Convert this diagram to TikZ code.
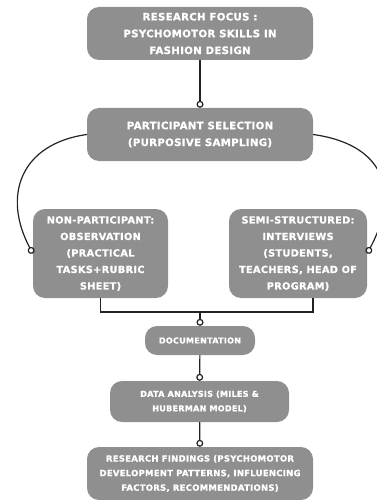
\documentclass[tikz,border=0pt]{standalone}
\usepackage{fontspec}
\usepackage{tikz}
\usetikzlibrary{arrows}
\newfontfamily\boxfont[LetterSpace=3,FakeBold=1]{DejaVu Sans}
\definecolor{boxgray}{HTML}{8F8F8F}
\definecolor{linegray}{HTML}{222222}
\tikzset{
  stagebox/.style = {rectangle, rounded corners=12pt, fill=boxgray, draw=none,
    align=center, inner sep=0pt, text=white, font=\boxfont\bfseries\fontsize{10.2}{16.8}\selectfont},% main stages
  sidebox/.style = {stagebox, font=\boxfont\bfseries\fontsize{9.8}{16.5}\selectfont},% two data sources
  smallbox/.style = {stagebox, font=\boxfont\bfseries\fontsize{8.1}{14.5}\selectfont},% lower steps
  findbox/.style = {stagebox, font=\boxfont\bfseries\fontsize{8.5}{14.6}\selectfont},% last step
  link/.style = {draw=linegray, line width=1.2pt}
}

\begin{document}
\begin{tikzpicture}[x=1pt,y=-1pt,>=stealth']
    \useasboundingbox (0,0) rectangle (376,500);
    \node [stagebox, minimum width=226pt, minimum height=53pt] (focus) at (200,33.5)
        {RESEARCH FOCUS :\\PSYCHOMOTOR SKILLS IN\\FASHION DESIGN};
    \node [stagebox, minimum width=226pt, minimum height=53pt] (selection) at (200,134.5)
        {PARTICIPANT SELECTION\\(PURPOSIVE SAMPLING)};
    \node [sidebox, minimum width=135pt, minimum height=89pt] (observ) at (100.5,253.5)
        {NON-PARTICIPANT:\\OBSERVATION\\(PRACTICAL\\TASKS+RUBRIC\\SHEET)};
    \node [sidebox, minimum width=138pt, minimum height=89pt] (interv) at (298,253.5)
        {SEMI-STRUCTURED:\\INTERVIEWS\\(STUDENTS,\\TEACHERS, HEAD OF\\PROGRAM)};
    \node [smallbox, minimum width=110pt, minimum height=29pt] (docu) at (200,340.5)
        {DOCUMENTATION};
    \node [smallbox, minimum width=179pt, minimum height=41pt] (analysis) at (199.5,401.5)
        {DATA ANALYSIS (MILES \&\\HUBERMAN MODEL)};
    \node [findbox, minimum width=226pt, minimum height=53pt] (findings) at (200,473.5)
        {RESEARCH FINDINGS (PSYCHOMOTOR\\DEVELOPMENT PATTERNS, INFLUENCING\\FACTORS, RECOMMENDATIONS)};

    \coordinate (merge) at (200,312);
    \draw [link,-o] (focus) -- (selection);
    \draw [link,-o] (selection.west) to[out=188,in=118,looseness=1.3] (observ.west);
    \draw [link,-o] (selection.east) to[out=-8,in=62,looseness=1.4] (interv.east);
    \draw [link] (observ.south) |- (merge) -| ([xshift=15pt]interv.south);
    \draw [link,-o] (merge) -- (docu);
    \draw [link,-o] (docu) -- (analysis);
    \draw [link,-o] (analysis) -- (findings);
\end{tikzpicture}
\end{document}
